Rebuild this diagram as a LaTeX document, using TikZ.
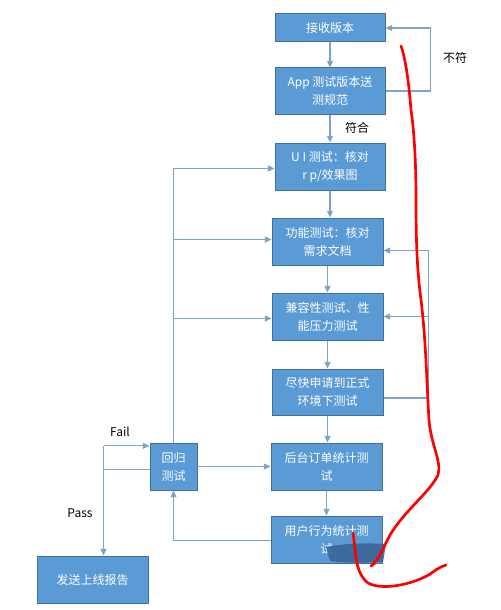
\documentclass[tikz,border=0pt]{standalone}
\usepackage{fontspec}
\setmainfont{Noto Sans CJK SC}
\usetikzlibrary{arrows.meta}

\definecolor{boxfill}{RGB}{91,155,213}
\definecolor{boxline}{RGB}{65,113,156}
\definecolor{linkcol}{RGB}{127,163,199}
\definecolor{smear}{RGB}{58,100,152}

\tikzset{every picture/.style={line width=0.75pt},
  stepbox/.style={draw=boxline, fill=boxfill, text=white, align=center,
    font=\fontsize{9}{13.5}\selectfont, inner sep=1pt},
  link/.style={draw=linkcol, line width=0.9pt},
  linkarr/.style={link, -{Triangle[length=5pt,width=4.5pt]}},
  lbl/.style={font=\fontsize{9}{11}\selectfont, text=black}}

\begin{document}
\begin{tikzpicture}[x=0.75pt,y=0.75pt,yscale=-1,xscale=1]
	\useasboundingbox (0,0) rectangle (500,610);
	\fill[white] (0,0) rectangle (500,610);

	%Shape: Boxes of the main column
	\node[stepbox, minimum width=110*0.75pt, minimum height=28*0.75pt] (recv) at (330,28) {接收版本};
	\node[stepbox, minimum width=110*0.75pt, minimum height=46*0.75pt] (spec) at (330,91) {App 测试版本送\\测规范};
	\node[stepbox, minimum width=110*0.75pt, minimum height=47*0.75pt] (ui) at (330,166.5) {U I 测试：核对\\r p/效果图};
	\node[stepbox, minimum width=111*0.75pt, minimum height=47*0.75pt] (func) at (327.5,241.5) {功能测试：核对\\需求文档};
	\node[stepbox, minimum width=111*0.75pt, minimum height=47*0.75pt] (compat) at (327.5,316.5) {兼容性测试、性\\能压力测试};
	\node[stepbox, minimum width=111*0.75pt, minimum height=46*0.75pt] (env) at (327.5,392) {尽快申请到正式\\环境下测试};
	\node[stepbox, minimum width=111*0.75pt, minimum height=47*0.75pt] (order) at (326.5,466.5) {后台订单统计测\\试};
	\node[stepbox, minimum width=111*0.75pt, minimum height=47*0.75pt] (user) at (326.5,539.5) {用户行为统计测\\试};
	%Shape: Regression and report boxes
	\node[stepbox, minimum width=47*0.75pt, minimum height=47*0.75pt] (regress) at (173.5,466.5) {回归\\测试};
	\node[stepbox, minimum width=111*0.75pt, minimum height=47*0.75pt] (report) at (92.5,579.5) {发送上线报告};

	%Straight Lines: main column
	\draw[linkarr] (recv.south) -- (recv.south |- spec.north);
	\draw[linkarr] (spec.south) -- (spec.south |- ui.north);
	\draw[linkarr] (ui.south) -- (ui.south |- func.north);
	\draw[linkarr] (func.south) -- (func.south |- compat.north);
	\draw[linkarr] (compat.south) -- (compat.south |- env.north);
	\draw[linkarr] (env.south) -- (env.south |- order.north);
	\draw[linkarr] (order.south) -- (order.south |- user.north);

	%Straight Lines: spec does not match
	\draw[linkarr] (spec.east) -- ++(45,0) |- (recv.east);

	%Straight Lines: regression loop on the left
	\draw[linkarr] (regress.north) |- ([yshift=1.5pt]ui.west);
	\draw[linkarr] (regress.north) |- ([yshift=-1.5pt]func.west);
	\draw[linkarr] (regress.north) |- ([yshift=1.5pt]compat.west);
	\draw[linkarr] (regress.east) -- (regress.east -| order.west);
	\draw[linkarr] ([yshift=0.75pt]user.west) -| (regress.south);

	%Straight Lines: loop on the right
	\draw[link] ([yshift=4.5pt]env.east) -- ++(45,0) coordinate (rt);
	\draw[linkarr] (rt) |- ([yshift=6.75pt]func.east);
	\draw[linkarr] (rt) |- (compat.east);

	%Straight Lines: fail and pass
	\draw[link] ([yshift=2.5pt]regress.west) -- ++(-46,0) coordinate (fp);
	\draw[linkarr] (fp) -- (fp |- report.north);
	\draw[link] (fp) -- ++(0,-24) coordinate (fl);
	\draw[linkarr] (fl) -- (fl -| regress.west);

	% Text Node
	\node[lbl] (nomatch) at (455,58) {不符};
	% Text Node
	\node[lbl] (match) at (357,128) {符合};
	% Text Node
	\node[lbl] (fail) at (120,432) {Fail};
	% Text Node
	\node[lbl] (pass) at (80,513) {Pass};

	%Shape: dark smear on the last box
	\fill[smear, opacity=0.9] (326,547) .. controls (345,543) and (370,543) .. (386,544) -- (383,562) .. controls (360,563) and (340,563) .. (330,561) -- cycle;

	%Curve Lines: red pen marks
	\draw[red, line width=2pt, line cap=round, line join=round] (401,46) .. controls (406,60) and (409,85) .. (411,110) .. controls (414,130) and (416,160) .. (416,200) .. controls (416,240) and (417,270) .. (421,300) .. controls (426,340) and (427,390) .. (429,420) .. controls (431,445) and (442,462) .. (438,475) .. controls (430,492) and (405,510) .. (390,535) .. controls (383,548) and (380,558) .. (371,566) -- (375,563);
	\draw[red, line width=2pt, line cap=round, line join=round] (353,533) .. controls (356,550) and (354,572) .. (368,583) .. controls (385,592) and (420,582) .. (433,572) .. controls (438,568) and (443,566) .. (446,565);
\end{tikzpicture}
\end{document}
